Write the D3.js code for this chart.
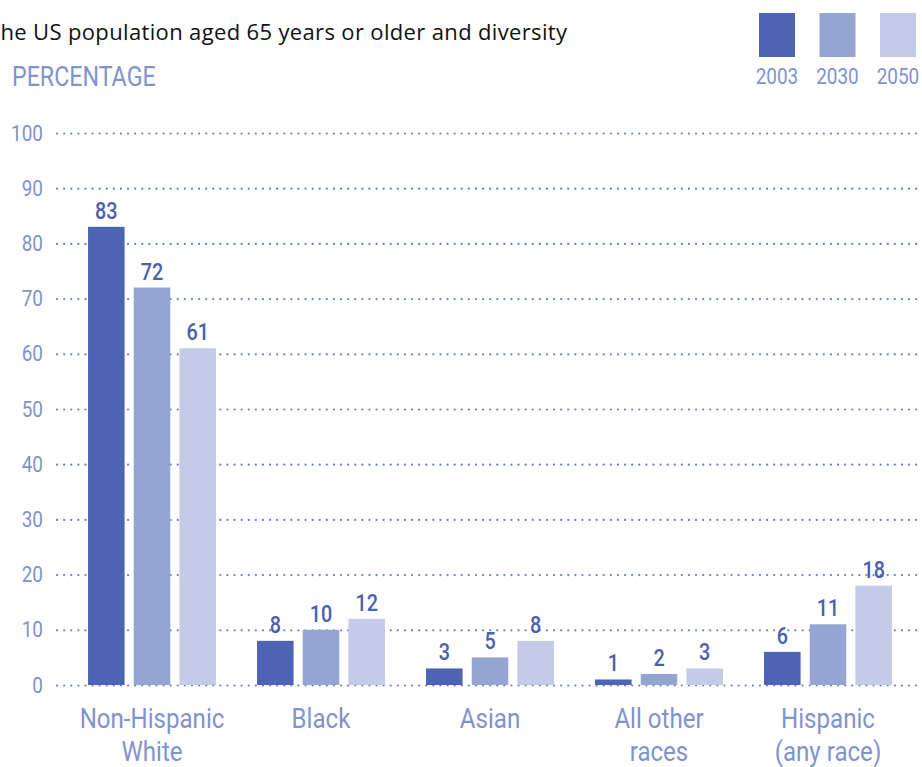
<!DOCTYPE html>
<html>
<head>
<meta charset="utf-8">
<script src="https://cdn.jsdelivr.net/npm/d3@7"></script>
<style>
  body { margin: 0; background: #fff; }
  svg { display: block; }
  .cond { font-family: Roboto, sans-serif; }
</style>
</head>
<body>
<div id="chart"></div>
<script>
const categories = [["Non-Hispanic", "White"], ["Black"], ["Asian"], ["All other", "races"], ["Hispanic", "(any race)"]];
const years = ["2003", "2030", "2050"];
const values2003 = [83, 8, 3, 1, 6];
const values2030 = [72, 10, 5, 2, 11];
const values2050 = [61, 12, 8, 3, 18];
const yTicks = [0, 10, 20, 30, 40, 50, 60, 70, 80, 90, 100];

const COLORS = ["#4d64b4", "#94a5d4", "#c3cbe6"];
const LABEL = "#7f93cc";
const VALUE = "#4a5fae";
const WIDTH = 922, HEIGHT = 767;
const SQUEEZE = 0.86;   // fake a condensed face

const series = [values2003, values2030, values2050];
const keys = categories.map(c => c.join(" "));
const data = keys.map((k, i) => ({key: k, lines: categories[i], vals: series.map(s => s[i])}));

const svg = d3.select("#chart").append("svg")
    .attr("width", WIDTH)
    .attr("height", HEIGHT);

// text squeezed horizontally around its anchor point
function condText(parent, x, y, str, size) {
    return parent.append("text")
        .attr("class", "cond")
        .attr("transform", `translate(${x},${y}) scale(${SQUEEZE},1)`)
        .attr("font-size", size)
        .text(str);
}

const y = d3.scaleLinear()
    .domain([0, 100])
    .range([685, 133]);

const x = d3.scaleBand()
    .domain(keys)
    .range([67.5, 912.5])
    .paddingInner(0.243)
    .paddingOuter(0.1215);

const x1 = d3.scaleBand()
    .domain(years)
    .range([0, x.bandwidth()])
    .paddingInner(0.2);

// title (its first letter runs off the left edge, as in the original)
svg.append("text")
    .attr("x", -12)
    .attr("y", 40)
    .attr("font-family", "Open Sans, sans-serif")
    .attr("font-size", 22)
    .attr("letter-spacing", 0.35)
    .attr("fill", "#111")
    .text("The US population aged 65 years or older and diversity");

condText(svg, 12, 86, "PERCENTAGE", 27)
    .attr("fill", LABEL);

// grid
const yAxis = d3.axisLeft(y)
    .tickValues(yTicks)
    .tickSize(-(WIDTH - 57))
    .tickFormat("");

const gAxis = svg.append("g")
    .attr("transform", "translate(57,0)")
    .call(yAxis);
gAxis.select(".domain").remove();
gAxis.selectAll(".tick line")
    .attr("stroke", "#6f82c4")
    .attr("stroke-width", 2.2)
    .attr("stroke-linecap", "round")
    .attr("stroke-dasharray", "0.1,7");

yTicks.forEach(t => {
    condText(svg, 43, y(t) + 7.5, t, 22)
        .attr("text-anchor", "end")
        .attr("fill", LABEL);
});

// bars
const groups = svg.selectAll(".grp")
    .data(data)
    .enter().append("g")
    .attr("class", "grp")
    .attr("transform", d => `translate(${x(d.key)},0)`);

groups.selectAll("rect")
    .data(d => d.vals.map((v, i) => ({year: years[i], v, i})))
    .enter().append("rect")
    .attr("x", d => x1(d.year))
    .attr("y", d => y(d.v))
    .attr("width", x1.bandwidth())
    .attr("height", d => y(0) - y(d.v))
    .attr("fill", d => COLORS[d.i]);

groups.each(function(d) {
    const g = d3.select(this);
    d.vals.forEach((v, i) => {
        condText(g, x1(years[i]) + x1.bandwidth() / 2, y(v) - 8, v, 23)
            .attr("text-anchor", "middle")
            .attr("font-weight", 500)
            .attr("fill", VALUE);
    });
    // category labels
    d.lines.forEach((line, j) => {
        condText(g, x.bandwidth() / 2, 728 + j * 33, line, 28)
            .attr("text-anchor", "middle")
            .attr("fill", LABEL);
    });
});

// legend
years.forEach((yr, i) => {
    const lx = 759 + i * 60.5;
    svg.append("rect")
        .attr("x", lx)
        .attr("y", 13)
        .attr("width", 36)
        .attr("height", 44)
        .attr("fill", COLORS[i]);
    condText(svg, lx + 18, 84, yr, 22)
        .attr("text-anchor", "middle")
        .attr("fill", LABEL);
});
</script>
</body>
</html>
